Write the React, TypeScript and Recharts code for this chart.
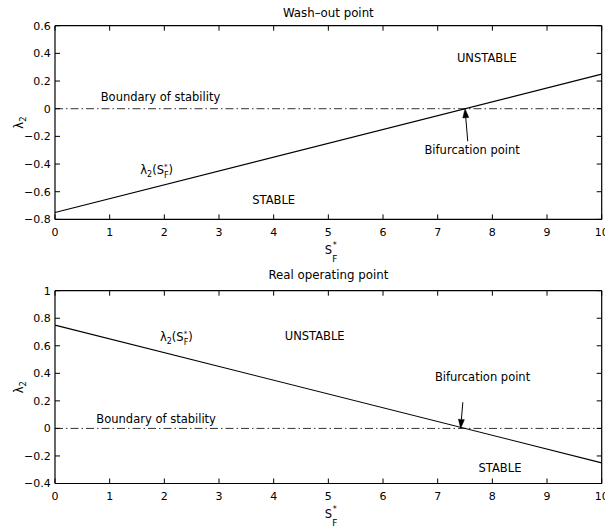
import React from 'react';
import { LineChart, Line, XAxis, YAxis, ReferenceDot, ReferenceLine, Label } from 'recharts';

const FONT = 'DejaVu Sans';

// S*_F values (x) and lambda_2 values
const sfValues = [0, 10];
const washoutLambda = [-0.75, 0.25];
const realLambda = [0.75, -0.25];
const boundaryLambda = [0, 0];

const xTicks = [0, 1, 2, 3, 4, 5, 6, 7, 8, 9, 10];
const washoutYTicks = [-0.8, -0.6, -0.4, -0.2, 0, 0.2, 0.4, 0.6];
const realYTicks = [-0.4, -0.2, 0, 0.2, 0.4, 0.6, 0.8, 1];

const washoutTitle = 'Wash\u2013out point';
const realTitle = 'Real operating point';

const washoutNotes = [
  { x: 7.9, y: 0.37, text: 'UNSTABLE' },
  { x: 1.93, y: 0.087, text: 'Boundary of stability' },
  { x: 7.63, y: -0.3, text: 'Bifurcation point' },
  { x: 4.0, y: -0.66, text: 'STABLE' },
];
const washoutCurveLabel = { x: 1.56, y: -0.44 };
const washoutArrow = [{ x: 7.55, y: -0.235 }, { x: 7.5, y: 0 }];

const realNotes = [
  { x: 4.75, y: 0.672, text: 'UNSTABLE' },
  { x: 1.85, y: 0.068, text: 'Boundary of stability' },
  { x: 7.82, y: 0.371, text: 'Bifurcation point' },
  { x: 8.14, y: -0.29, text: 'STABLE' },
];
const realCurveLabel = { x: 1.92, y: 0.663 };
const realArrow = [{ x: 7.46, y: 0.19 }, { x: 7.42, y: 0 }];

const washoutData = sfValues.map((s, i) => ({ s, lambda: washoutLambda[i], boundary: boundaryLambda[i] }));
const realData = sfValues.map((s, i) => ({ s, lambda: realLambda[i], boundary: boundaryLambda[i] }));

const fmt = (v: number) => (v < 0 ? '\u2212' + String(Math.abs(v)) : String(v));

const axisLine = { stroke: '#000', strokeWidth: 1.2 };
const TICK_LEN = 5;

function BottomTick(p: any) {
  const { x, y, payload } = p;
  return (
    <g>
      <line x1={x} x2={x} y1={y} y2={y - TICK_LEN} stroke="#000" strokeWidth={1} />
      <text x={x} y={y + 16.3} textAnchor="middle" fontFamily={FONT} fontSize={11} fill="#000">
        {fmt(payload.value)}
      </text>
    </g>
  );
}
function TopTick(p: any) {
  const { x, y } = p;
  return <line x1={x} x2={x} y1={y} y2={y + TICK_LEN} stroke="#000" strokeWidth={1} />;
}
function LeftTick(p: any) {
  const { x, y, payload } = p;
  return (
    <g>
      <line x1={x} x2={x + TICK_LEN} y1={y} y2={y} stroke="#000" strokeWidth={1} />
      <text x={x - 4.3} y={y} dy="0.36em" textAnchor="end" fontFamily={FONT} fontSize={11} fill="#000">
        {fmt(payload.value)}
      </text>
    </g>
  );
}
function RightTick(p: any) {
  const { x, y } = p;
  return <line x1={x} x2={x - TICK_LEN} y1={y} y2={y} stroke="#000" strokeWidth={1} />;
}

function ArrowShape(p: any) {
  const { x1, y1, x2, y2 } = p;
  const dx = x2 - x1;
  const dy = y2 - y1;
  const len = Math.sqrt(dx * dx + dy * dy) || 1;
  const ux = dx / len;
  const uy = dy / len;
  const hl = 9;
  const hw = 3;
  const bx = x2 - ux * hl;
  const by = y2 - uy * hl;
  const px = -uy * hw;
  const py = ux * hw;
  return (
    <g>
      <line x1={x1} y1={y1} x2={bx} y2={by} stroke="#000" strokeWidth={1} />
      <path d={`M${x2},${y2} L${bx + px},${by + py} L${bx - px},${by - py} Z`} fill="#000" stroke="#000" strokeWidth={0.5} />
    </g>
  );
}

function NoteText(text: string) {
  return (p: any) => (
    <text x={p.cx} y={p.cy} dy="0.36em" textAnchor="middle" fontFamily={FONT} fontSize={11.5} fill="#000">
      {text}
    </text>
  );
}

function CurveLabel(p: any) {
  return (
    <text x={p.cx} y={p.cy + 4} textAnchor="start" fontFamily={FONT} fontSize={11.5} fill="#000">
      {'\u03bb'}
      <tspan dy={3} fontSize={8}>2</tspan>
      <tspan dy={-3}>(S</tspan>
      <tspan dy={-5} fontSize={7}>*</tspan>
      <tspan dx={-3.5} dy={9} fontSize={8}>F</tspan>
      <tspan dy={-4}>)</tspan>
    </text>
  );
}

function XAxisLabel(props: any) {
  const vb = props.viewBox || {};
  const cx = vb.x + vb.width / 2;
  const base = vb.y + 34.6;
  return (
    <text x={cx - 3.5} y={base} fontFamily={FONT} fontSize={11.5} fill="#000">
      S
      <tspan dx={0.5} dy={-6} fontSize={8}>*</tspan>
      <tspan dx={-4.5} dy={14} fontSize={9}>F</tspan>
    </text>
  );
}

function YAxisLabel(props: any) {
  const vb = props.viewBox || {};
  const cy = vb.y + vb.height / 2;
  const x = 23;
  return (
    <text transform={`translate(${x},${cy}) rotate(-90)`} textAnchor="middle" fontFamily={FONT} fontSize={11.5} fill="#000">
      {'\u03bb'}
      <tspan dy={3} fontSize={8.5}>2</tspan>
    </text>
  );
}

function TitleLabel(title: string, offset: number) {
  return (props: any) => {
    const vb = props.viewBox || {};
    const cx = vb.x + vb.width / 2;
    const axisY = vb.y + vb.height;
    return (
      <text x={cx} y={axisY - offset} textAnchor="middle" fontFamily={FONT} fontSize={11.8} fill="#000">
        {title}
      </text>
    );
  };
}

function Panel(props: {
  data: any[];
  yTicks: number[];
  yDomain: [number, number];
  height: number;
  margin: any;
  title: string;
  titleOffset: number;
  notes: { x: number; y: number; text: string }[];
  curveLabel: { x: number; y: number };
  arrow: { x: number; y: number }[];
}) {
  const { data, yTicks, yDomain, height, margin, title, titleOffset, notes, curveLabel, arrow } = props;
  return (
    <LineChart width={605} height={height} data={data} margin={margin}>
      <XAxis
        dataKey="s"
        type="number"
        domain={[0, 10]}
        ticks={xTicks}
        height={30}
        axisLine={axisLine}
        tickLine={false}
        tickSize={0}
        tickMargin={0}
        tick={BottomTick}
        interval={0}
      >
        <Label content={XAxisLabel} />
      </XAxis>
      <XAxis
        xAxisId="top"
        orientation="top"
        dataKey="s"
        type="number"
        domain={[0, 10]}
        ticks={xTicks}
        height={1}
        axisLine={axisLine}
        tickLine={false}
        tickSize={0}
        tickMargin={0}
        tick={TopTick}
        interval={0}
      >
        <Label content={TitleLabel(title, titleOffset)} />
      </XAxis>
      <YAxis
        type="number"
        domain={yDomain}
        ticks={yTicks}
        width={30}
        axisLine={axisLine}
        tickLine={false}
        tickSize={0}
        tickMargin={0}
        tick={LeftTick}
        interval={0}
        allowDataOverflow
      >
        <Label content={YAxisLabel} />
      </YAxis>
      <YAxis
        yAxisId="right"
        orientation="right"
        type="number"
        domain={yDomain}
        ticks={yTicks}
        width={1}
        axisLine={axisLine}
        tickLine={false}
        tickSize={0}
        tickMargin={0}
        tick={RightTick}
        interval={0}
        allowDataOverflow
      />
      <Line
        dataKey="boundary"
        stroke="#333"
        strokeWidth={1}
        strokeDasharray="8 3 1.5 3"
        dot={false}
        isAnimationActive={false}
      />
      <Line
        dataKey="lambda"
        stroke="#000"
        strokeWidth={1.1}
        dot={false}
        isAnimationActive={false}
      />
      {notes.map((n, i) => (
        <ReferenceDot key={i} x={n.x} y={n.y} r={0} shape={NoteText(n.text)} />
      ))}
      <ReferenceDot x={curveLabel.x} y={curveLabel.y} r={0} shape={CurveLabel} />
      <ReferenceLine segment={arrow} shape={ArrowShape} />
    </LineChart>
  );
}

export default function App() {
  return (
    <div style={{ position: 'absolute', left: 0, top: 0, width: 605, height: 529, background: '#fff' }}>
      <div style={{ position: 'absolute', left: 0, top: 0 }}>
        <Panel
          data={washoutData}
          yTicks={washoutYTicks}
          yDomain={[-0.8, 0.6]}
          height={265}
          margin={{ top: 24.7, right: 2.3, bottom: 15.6, left: 25 }}
          title={washoutTitle}
          titleOffset={8.8}
          notes={washoutNotes}
          curveLabel={washoutCurveLabel}
          arrow={washoutArrow}
        />
      </div>
      <div style={{ position: 'absolute', left: 0, top: 265 }}>
        <Panel
          data={realData}
          yTicks={realYTicks}
          yDomain={[-0.4, 1]}
          height={264}
          margin={{ top: 24.7, right: 2.3, bottom: 15.5, left: 25 }}
          title={realTitle}
          titleOffset={11.5}
          notes={realNotes}
          curveLabel={realCurveLabel}
          arrow={realArrow}
        />
      </div>
    </div>
  );
}
